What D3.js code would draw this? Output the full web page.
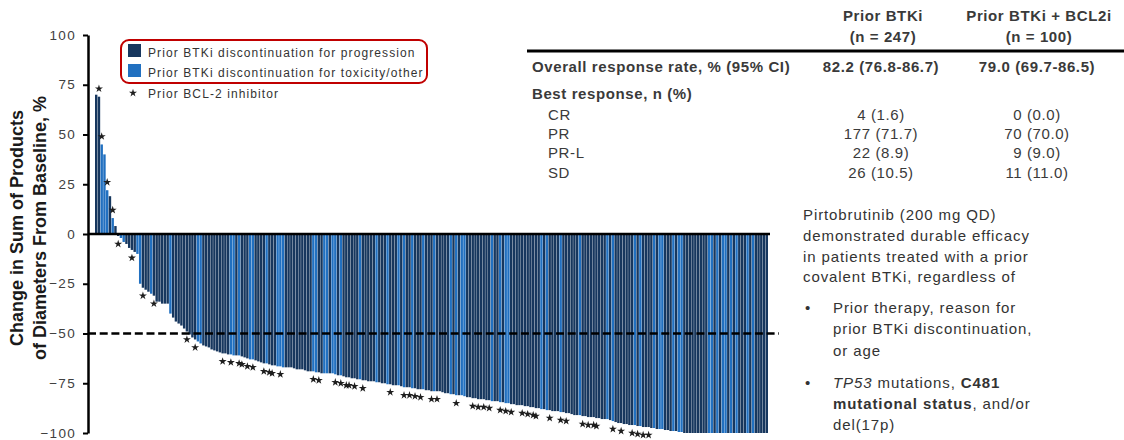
<!DOCTYPE html>
<html>
<head>
<meta charset="utf-8">
<script src="https://cdn.jsdelivr.net/npm/d3@7"></script>
<style>
  html, body { margin: 0; padding: 0; background: #fff; }
  svg { display: block; font-family: "Liberation Sans", Arial, Helvetica, sans-serif; }
</style>
</head>
<body>
<svg id="chart" width="1124" height="440"></svg>
<script>
// Best percent change in SPD, one value per patient, sorted high to low
const changeFromBaseline = [
  70, 69, 45, 40, 22, 19, 8, 4,
  -1, -2, -4, -5, -7, -8, -9, -10, -25, -27, -28, -29, -30, -31, -34, -34, -35, -35, -35, -40, -42, -44,
  -45, -46, -47.5, -49, -50.5, -52, -53, -54, -55, -56,
  -56.5, -57, -58, -58.5, -59, -59.5, -60, -60, -60.5, -60.5,
  -61, -61, -61, -61.5, -62, -62.5, -63, -63, -63.5, -64,
  -64.5, -65, -65, -65.5, -66, -66, -66.5, -66.5, -67, -67,
  -67, -67, -67.5, -68, -68, -68, -68.5, -69, -69, -69,
  -69.5, -69.5, -70, -70, -70, -70, -70, -70.5, -71, -71,
  -71.5, -72, -72, -72.5, -72.5, -73, -73, -73.5, -73.5, -74,
  -74, -74, -74.5, -74.5, -75, -75, -75.5, -75.5, -76, -76,
  -76, -76.5, -77, -77, -77, -77.5, -77.5, -78, -78, -78,
  -78.5, -78.5, -79, -79, -79, -79, -79.5, -80, -80, -80.5,
  -80.5, -81, -81, -81, -81.5, -82, -82, -82.5, -82.5, -83,
  -83, -83, -83.5, -83.5, -84, -84, -84, -84.5, -84.5, -85,
  -85, -85.5, -85.5, -86, -86, -86, -86.5, -86.5, -87, -87,
  -87.5, -87.5, -88, -88, -88.5, -88.5, -89, -89, -89, -89.5,
  -89.5, -90, -90, -90.5, -91, -91, -91, -91.5, -91.5, -92,
  -92, -92, -92.5, -92.5, -93, -93, -93, -93.5, -94, -94.5,
  -95, -95, -95.5, -95.5, -96, -96, -96, -96.5, -96.5, -97,
  -97, -97, -97.5, -97.5, -98, -98, -98, -98.5, -98.5, -99,
  -99, -99, -99.5, -99.5, -100,
  -100, -100, -100, -100, -100, -100, -100, -100, -100, -100,
  -100, -100, -100, -100, -100, -100, -100, -100, -100, -100,
  -100, -100, -100, -100, -100, -100, -100, -100, -100, -100
];

// Patients (by position in the sorted list) who stopped the prior BTKi for toxicity/other
const toxicityPatients = [
  2, 3, 4, 6, 9, 10, 15, 16, 20, 27, 37, 38, 49, 50, 52, 56, 57, 62, 66, 67, 68,
  79, 80, 83, 84, 86, 87, 89, 96, 102, 106, 110, 112, 115, 119, 123, 129, 131, 133, 134,
  144, 147, 149, 150, 162, 164, 169, 176, 186, 188, 196, 198, 203, 205, 206,
  210, 212, 213, 223, 224, 226, 228, 229, 231, 233, 237, 239
];

// Patients who also received a prior BCL-2 inhibitor
const priorBcl2Patients = [
  1, 2, 4, 6, 8, 13, 17, 21, 33, 36, 46, 49, 52, 53, 55, 57, 61, 63, 64, 67,
  79, 81, 87, 89, 91, 92, 94, 97, 107, 112, 114, 116, 118, 122, 124, 131,
  137, 139, 141, 143, 147, 149, 151, 155, 157, 159, 160, 165, 169, 171,
  177, 179, 181, 182, 188, 191, 195, 197, 199, 201
];

const yTicks = [100, 75, 50, 25, 0, -25, -50, -75, -100];
const responseThreshold = -50;

const legendLabels = [
  "Prior BTKi discontinuation for progression",
  "Prior BTKi discontinuation for toxicity/other",
  "Prior BCL-2 inhibitor"
];

const yTitleLines = ["Change in Sum of Products", "of Diameters From Baseline, %"];

// Response table
const tableHeaders = [["Prior BTKi", "(n = 247)"], ["Prior BTKi + BCL2i", "(n = 100)"]];
const orrLabel = "Overall response rate, % (95% CI)";
const orrValues = ["82.2 (76.8-86.7)", "79.0 (69.7-86.5)"];
const bestResponseLabel = "Best response, n (%)";
const responseCategories = ["CR", "PR", "PR-L", "SD"];
const priorBtkiCounts = ["4 (1.6)", "177 (71.7)", "22 (8.9)", "26 (10.5)"];
const priorBtkiBcl2Counts = ["0 (0.0)", "70 (70.0)", "9 (9.0)", "11 (11.0)"];

// Key-message text (segments: [text, style])
const summaryLines = [
  [["Pirtobrutinib (200 mg QD)", ""]],
  [["demonstrated durable efficacy", ""]],
  [["in patients treated with a prior", ""]],
  [["covalent BTKi, regardless of", ""]]
];
const bulletItems = [
  [[["Prior therapy, reason for", ""]], [["prior BTKi discontinuation,", ""]], [["or age", ""]]],
  [[["TP53", "i"], [" mutations, ", ""], ["C481", "b"]], [["mutational status", "b"], [", and/or", ""]], [["del(17p)", ""]]]
];

const COLORS = {
  progression: "#17375e",
  toxicity: "#2170c0",
  text: "#3a3a3a",
  legendBorder: "#c00000"
};

const svg = d3.select("#chart");

// ---- scales ----
const patientIds = d3.range(changeFromBaseline.length);
const x = d3.scaleBand().domain(patientIds).range([95, 768]).paddingInner(0.12);
const y = d3.scaleLinear().domain([-100, 100]).range([433, 35]);
const toxSet = new Set(toxicityPatients);

// ---- bars ----
svg.append("g")
  .selectAll("rect")
  .data(patientIds)
  .join("rect")
  .attr("x", i => x(i))
  .attr("width", x.bandwidth())
  .attr("y", i => y(Math.max(0, changeFromBaseline[i])))
  .attr("height", i => Math.abs(y(changeFromBaseline[i]) - y(0)))
  .attr("fill", i => toxSet.has(i) ? COLORS.toxicity : COLORS.progression);

// ---- zero line ----
svg.append("line")
  .attr("x1", 88).attr("x2", 770)
  .attr("y1", y(0)).attr("y2", y(0))
  .attr("stroke", "#000").attr("stroke-width", 2.5);

// ---- -50% threshold ----
svg.append("line")
  .attr("x1", 88).attr("x2", 779)
  .attr("y1", y(responseThreshold)).attr("y2", y(responseThreshold))
  .attr("stroke", "#000").attr("stroke-width", 2.5)
  .attr("stroke-dasharray", "8,3.7");

// ---- prior BCL-2 inhibitor markers ----
const star = d3.symbol().type(d3.symbolStar).size(20);
svg.append("g")
  .selectAll("path")
  .data(priorBcl2Patients)
  .join("path")
  .attr("d", star)
  .attr("fill", "#1e1e1e")
  .attr("transform", i => {
    const v = changeFromBaseline[i];
    const cx = x(i) + x.bandwidth() / 2;
    const cy = v >= 0 ? y(v) - 8 : y(v) + 8;
    return `translate(${cx},${cy})`;
  });

// ---- y axis ----
const yAxis = d3.axisLeft(y).tickValues(yTicks).tickSize(5).tickSizeOuter(0).tickPadding(7);
const gy = svg.append("g").attr("transform", "translate(88,0)").call(yAxis);
gy.select(".domain").attr("stroke", "#000").attr("stroke-width", 2.5);
gy.selectAll(".tick line").attr("stroke", "#000").attr("stroke-width", 2);
gy.selectAll(".tick text")
  .attr("fill", "#404040")
  .attr("dy", "0.3em")
  .style("font-size", "13.5px")
  .style("letter-spacing", "1.3px")
  .style("font-family", "'Liberation Sans', Arial, sans-serif");

// ---- y axis title ----
yTitleLines.forEach((t, k) => {
  svg.append("text")
    .attr("transform", `translate(${k === 0 ? 23 : 46},228) rotate(-90)`)
    .attr("text-anchor", "middle")
    .attr("fill", "#1a1a1a")
    .style("font-size", "18px")
    .style("font-weight", "bold")
    .text(t);
});

// ---- legend ----
const legend = svg.append("g");
legend.append("rect")
  .attr("x", 121).attr("y", 40).attr("width", 306).attr("height", 43).attr("rx", 8)
  .attr("fill", "none").attr("stroke", COLORS.legendBorder).attr("stroke-width", 2);
[COLORS.progression, COLORS.toxicity].forEach((c, k) => {
  legend.append("rect")
    .attr("x", 128).attr("y", 44 + k * 20).attr("width", 13).attr("height", 13)
    .attr("fill", c);
  legend.append("text")
    .attr("x", 148).attr("y", 56.5 + k * 20)
    .attr("fill", "#333")
    .style("font-size", "12px").style("letter-spacing", "1.1px")
    .text(legendLabels[k]);
});
legend.append("path")
  .attr("d", star)
  .attr("fill", "#1e1e1e")
  .attr("transform", "translate(133,93)");
legend.append("text")
  .attr("x", 148).attr("y", 98)
  .attr("fill", "#333")
  .style("font-size", "12px").style("letter-spacing", "1.1px")
  .text(legendLabels[2]);

// ---- response table ----
const table = svg.append("g").attr("fill", COLORS.text)
  .style("font-size", "15px").style("letter-spacing", "0.6px");
const colCenters = [881, 1037];
tableHeaders.forEach((lines, c) => {
  lines.forEach((t, r) => {
    table.append("text")
      .attr("x", colCenters[c] + 2).attr("y", 20.5 + r * 21)
      .attr("text-anchor", "middle").style("font-weight", "bold")
      .text(t);
  });
});
table.append("line")
  .attr("x1", 527).attr("x2", 1124).attr("y1", 51).attr("y2", 51)
  .attr("stroke", "#000").attr("stroke-width", 3);
table.append("text").attr("x", 532).attr("y", 71.5).style("font-weight", "bold").text(orrLabel);
orrValues.forEach((t, c) => {
  table.append("text")
    .attr("x", colCenters[c]).attr("y", 71.5)
    .attr("text-anchor", "middle").style("font-weight", "bold")
    .text(t);
});
table.append("text").attr("x", 532).attr("y", 98.5).style("font-weight", "bold").text(bestResponseLabel);
responseCategories.forEach((cat, r) => {
  const yy = 119.5 + r * 19.4;
  table.append("text").attr("x", 548).attr("y", yy).text(cat);
  table.append("text").attr("x", colCenters[0]).attr("y", yy).attr("text-anchor", "middle").text(priorBtkiCounts[r]);
  table.append("text").attr("x", colCenters[1]).attr("y", yy).attr("text-anchor", "middle").text(priorBtkiBcl2Counts[r]);
});

// ---- key message ----
const msg = svg.append("g").attr("fill", "#333")
  .style("font-size", "15px").style("letter-spacing", "0.9px");
function writeLine(segments, xx, yy) {
  const t = msg.append("text").attr("x", xx).attr("y", yy);
  segments.forEach(([s, st]) => {
    const ts = t.append("tspan").text(s);
    if (st === "i") ts.style("font-style", "italic");
    if (st === "b") ts.style("font-weight", "bold");
  });
}
const summaryBaselines = [220, 241, 261.5, 282];
summaryLines.forEach((segs, k) => writeLine(segs, 803, summaryBaselines[k]));
const bulletBaselines = [[313, 334, 355.5], [387.5, 408.5, 430]];
bulletItems.forEach((lines, b) => {
  msg.append("text").attr("x", 805).attr("y", bulletBaselines[b][0]).text("•");
  lines.forEach((segs, k) => writeLine(segs, 833, bulletBaselines[b][k]));
});
</script>
</body>
</html>
